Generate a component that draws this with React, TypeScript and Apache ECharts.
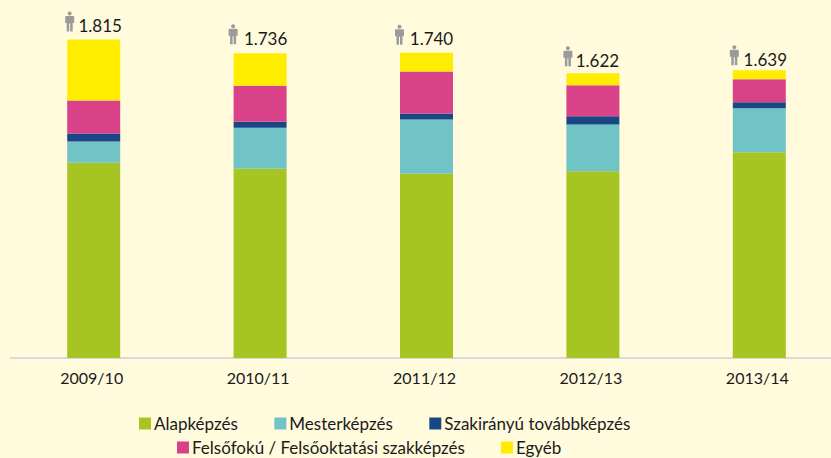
import React, { useEffect, useRef } from "react";
import * as echarts from "echarts";

const categories = ["2009/10", "2010/11", "2011/12", "2012/13", "2013/14"];
const alapkepzes = [1113, 1078, 1050, 1064, 1173];
const mesterkepzes = [120, 234, 309, 267, 250];
const szakiranyu = [46, 34, 34, 46, 34];
const felsofoku = [188, 205, 239, 177, 131];
const egyeb = [348, 185, 108, 68, 51];
const totals = [1815, 1736, 1740, 1622, 1639];
const totalLabels = ["1.815", "1.736", "1.740", "1.622", "1.639"];

const iconOffsets = [[-24, -18], [-27, -19], [-27, -18], [-25, -17], [-25, -15]];
const labelOffsets = [[6.5, -14], [5.5, -15], [5, -14], [4.5, -13], [6, -11]];

const PERSON =
  "path://M4.5 0A2 2 0 1 1 4.49 0ZM1 4.5H8Q9 4.5 9 5.5V11.5H7.5V20H5V12H4V20H1.5V11.5H0V5.5Q0 4.5 1 4.5Z";
const FONT = "Lato";
const TEXT = "#1a1a1a";

const stacked = [
  ["Alapképzés", alapkepzes, "#A6C523"],
  ["Mesterképzés", mesterkepzes, "#70C4C6"],
  ["Szakirányú továbbképzés", szakiranyu, "#1B4685"],
  ["Felsőfokú / Felsőoktatási szakképzés", felsofoku, "#D94289"],
  ["Egyéb", egyeb, "#FFED00"],
] as const;

const legendBase = {
  orient: "horizontal" as const,
  icon: "rect",
  itemWidth: 12,
  itemHeight: 12,
  textStyle: { fontFamily: FONT, fontSize: 17, color: TEXT, padding: [0, 0, 0, -2] },
};

export default function App() {
  const ref = useRef<HTMLDivElement>(null);
  useEffect(() => {
    document.body.style.margin = "0";
    const chart = echarts.init(ref.current!, null, { renderer: "svg" });
    chart.setOption({
      animation: false,
      backgroundColor: "#FFFBDC",
      grid: { left: 10.5, top: 7, width: 832, height: 351, outerBoundsMode: "none" },
      legend: [
        { ...legendBase, left: 134, top: 410, itemGap: 36.5, data: stacked.slice(0, 3).map((s) => s[0]) },
        { ...legendBase, left: 172, top: 434, itemGap: 36, data: stacked.slice(3).map((s) => s[0]) },
      ],
      xAxis: {
        type: "category",
        data: categories,
        axisTick: { show: false },
        axisLine: { lineStyle: { color: "#D9D9D9", width: 2 } },
        axisLabel: { fontFamily: FONT, fontSize: 16, color: TEXT, margin: 11, padding: [0, 4, 0, 0] },
      },
      yAxis: { type: "value", min: 0, max: 2000, show: false },
      series: [
        ...stacked.map(([name, data, color]) => ({
          name,
          type: "bar",
          stack: "total",
          barWidth: 53,
          data,
          itemStyle: { color },
          emphasis: { disabled: true },
        })),
        {
          name: "icon",
          type: "scatter",
          symbol: PERSON,
          symbolSize: [9, 20],
          itemStyle: { color: "#9B9B9B", opacity: 1 },
          z: 5,
          data: totals.map((value, i) => ({ value, symbolOffset: iconOffsets[i] })),
        },
        {
          name: "total",
          type: "scatter",
          symbolSize: 1,
          itemStyle: { color: "transparent", opacity: 1 },
          z: 6,
          data: totals.map((value, i) => ({
            value,
            label: {
              show: true,
              position: "inside",
              offset: labelOffsets[i],
              formatter: totalLabels[i],
              fontFamily: FONT,
              fontSize: 17,
              color: TEXT,
            },
          })),
        },
      ],
    });
    return () => chart.dispose();
  }, []);
  return <div ref={ref} style={{ width: 831, height: 458 }} />;
}
